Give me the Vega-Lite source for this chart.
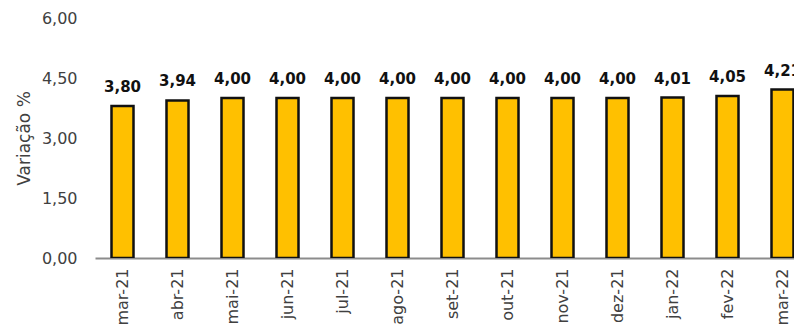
{
  "$schema": "https://vega.github.io/schema/vega-lite/v6.json",
  "autosize": "none",
  "width": 699,
  "height": 240,
  "padding": {"left": 95, "top": 18, "right": 0, "bottom": 72},
  "background": "white",
  "config": {"view": {"stroke": null}, "font": "DejaVu Sans"},
  "data": {
    "values": [
      {"mes": "mar-21", "valor": 3.80, "rotulo": "3,80"},
      {"mes": "abr-21", "valor": 3.94, "rotulo": "3,94"},
      {"mes": "mai-21", "valor": 4.00, "rotulo": "4,00"},
      {"mes": "jun-21", "valor": 4.00, "rotulo": "4,00"},
      {"mes": "jul-21", "valor": 4.00, "rotulo": "4,00"},
      {"mes": "ago-21", "valor": 4.00, "rotulo": "4,00"},
      {"mes": "set-21", "valor": 4.00, "rotulo": "4,00"},
      {"mes": "out-21", "valor": 4.00, "rotulo": "4,00"},
      {"mes": "nov-21", "valor": 4.00, "rotulo": "4,00"},
      {"mes": "dez-21", "valor": 4.00, "rotulo": "4,00"},
      {"mes": "jan-22", "valor": 4.01, "rotulo": "4,01"},
      {"mes": "fev-22", "valor": 4.05, "rotulo": "4,05"},
      {"mes": "mar-22", "valor": 4.21, "rotulo": "4,21"}
    ]
  },
  "encoding": {
    "x": {
      "field": "mes", "type": "nominal", "sort": null,
      "scale": {"range": [0, 715], "paddingInner": 0.6, "paddingOuter": 0.3},
      "axis": {
        "title": null, "labelAngle": -90, "labelFontSize": 16, "labelColor": "#404040",
        "labelPadding": 10, "ticks": false, "domainColor": "#8c8c8c", "domainWidth": 2,
        "labelFont": "DejaVu Sans"
      }
    },
    "y": {
      "field": "valor", "type": "quantitative",
      "scale": {"domain": [0, 6]},
      "axis": {
        "title": "Variação %", "values": [0, 1.5, 3, 4.5, 6],
        "labelExpr": "replace(format(datum.value, '.2f'), '.', ',')",
        "grid": false, "domain": false, "ticks": false, "labelPadding": 18,
        "labelFontSize": 16, "labelColor": "#404040", "titleFontSize": 17,
        "titleFontWeight": "normal", "titleColor": "#404040", "titlePadding": 8
      }
    }
  },
  "layer": [
    {"mark": {"type": "bar", "color": "#FFC000", "stroke": "#111111", "strokeWidth": 2.5, "clip": true}},
    {"mark": {"type": "text", "baseline": "alphabetic", "dy": -14, "fontSize": 15, "fontWeight": "bold", "color": "#111111", "clip": false},
     "encoding": {"text": {"field": "rotulo"}}}
  ]
}
